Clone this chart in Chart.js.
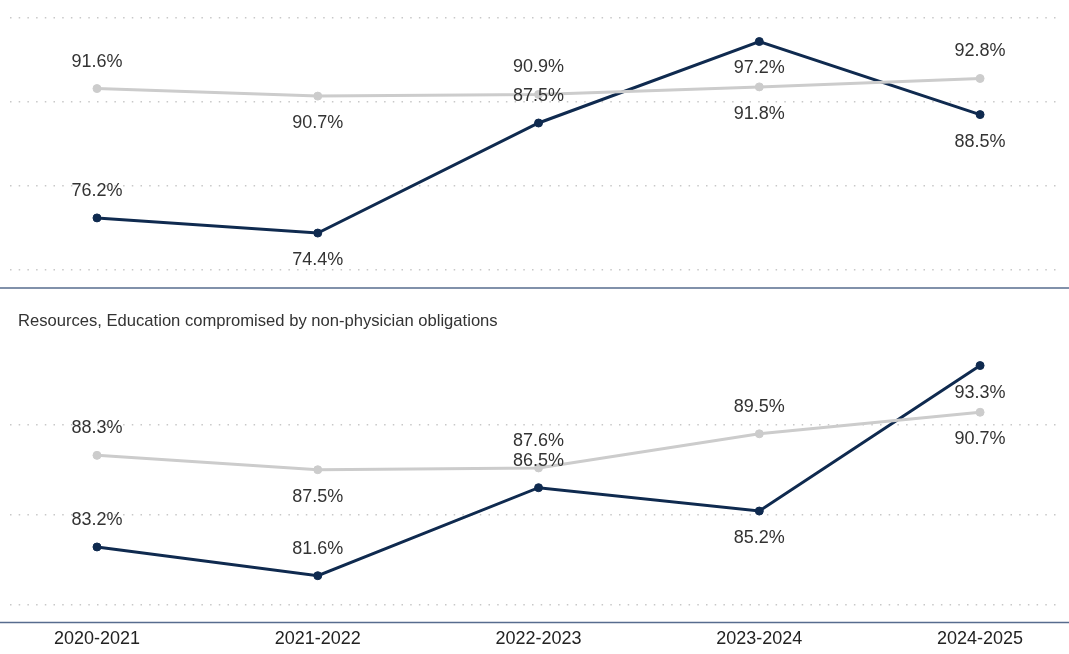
<!DOCTYPE html>
<html>
<head>
<meta charset="utf-8">
<script src="https://cdn.jsdelivr.net/npm/chart.js@4.4.1/dist/chart.umd.min.js"></script>
<style>
  html, body { margin: 0; padding: 0; background: #fff; }
  body { width: 1069px; height: 654px; position: relative; overflow: hidden; font-family: "Liberation Sans", Arial, sans-serif; }
  #top { position: absolute; left: 0; top: -5px; width: 1069px; height: 298px; }
  #bottom { position: absolute; left: 0; top: 289px; width: 1069px; height: 373px; }
  #title2 { position: absolute; left: 18px; top: 311px; font-size: 16.6px; color: #333; white-space: nowrap; }
</style>
</head>
<body>
<div id="top"><canvas id="chart1"></canvas></div>
<div id="bottom"><canvas id="chart2"></canvas></div>
<div id="title2">Resources, Education compromised by non-physician obligations</div>
<script>
const years = ['2020-2021', '2021-2022', '2022-2023', '2023-2024', '2024-2025'];

// top panel
const topNavy = [76.2, 74.4, 87.5, 97.2, 88.5];
const topGrey = [91.6, 90.7, 90.9, 91.8, 92.8];
const topTicks = [70, 80, 90, 100];

// bottom panel: Resources, Education compromised by non-physician obligations
const botNavy = [83.2, 81.6, 86.5, 85.2, 93.3];
const botGrey = [88.3, 87.5, 87.6, 89.5, 90.7];
const botTicks = [80, 85, 90];

// where each value label sits relative to its point
const topNavyPos = ['above', 'below', 'above', 'below', 'below'];
const topGreyPos = ['above', 'below', 'above', 'below', 'above'];
const botNavyPos = ['above', 'above', 'above', 'below', 'below'];
const botGreyPos = ['above', 'below', 'above', 'above', 'below'];

const NAVY = '#0f2a4f';
const GREY = '#cccccc';
const FONT = '"Liberation Sans", Arial, sans-serif';

const valueLabels = {
  id: 'valueLabels',
  afterDatasetsDraw(chart) {
    const ctx = chart.ctx;
    ctx.save();
    ctx.font = '18px ' + FONT;
    ctx.fillStyle = '#333';
    ctx.textAlign = 'center';
    ctx.textBaseline = 'middle';
    chart.data.datasets.forEach((ds, i) => {
      chart.getDatasetMeta(i).data.forEach((pt, j) => {
        const dy = ds.labelPos[j] === 'above' ? -27 : 27;
        ctx.fillText(ds.data[j].y.toFixed(1) + '%', pt.x, pt.y + dy);
      });
    });
    ctx.restore();
  }
};

// full width rule under the plot
const baseRule = {
  id: 'baseRule',
  beforeDatasetsDraw(chart) {
    const ctx = chart.ctx;
    const y = chart.chartArea.bottom;
    ctx.save();
    ctx.strokeStyle = '#576c8e';
    ctx.lineWidth = 1.5;
    ctx.beginPath();
    ctx.moveTo(0, y);
    ctx.lineTo(chart.width, y);
    ctx.stroke();
    ctx.restore();
  }
};

function pts(arr) {
  return arr.map((v, i) => ({ x: i, y: v }));
}

function series(label, values, color, pos) {
  return {
    label: label,
    data: pts(values),
    borderColor: color,
    backgroundColor: color,
    pointBackgroundColor: color,
    pointBorderColor: color,
    borderWidth: 3,
    pointRadius: 4,
    pointBorderWidth: 1,
    tension: 0,
    labelPos: pos
  };
}

function makeChart(id, navy, grey, navyPos, greyPos, ticks, yMin, yMax, showX, padding) {
  return new Chart(document.getElementById(id), {
    type: 'line',
    data: {
      datasets: [
        series('grey', grey, GREY, greyPos),
        series('navy', navy, NAVY, navyPos)
      ]
    },
    options: {
      responsive: true,
      maintainAspectRatio: false,
      animation: false,
      layout: { padding: padding },
      plugins: { legend: { display: false }, tooltip: { enabled: false } },
      scales: {
        x: {
          type: 'linear',
          min: -0.394,
          max: 4.362,
          display: showX,
          afterBuildTicks: s => { s.ticks = years.map((y, i) => ({ value: i })); },
          ticks: {
            callback: v => years[v],
            color: '#222',
            font: { size: 18, family: FONT },
            padding: 6,
            maxRotation: 0,
            autoSkip: false
          },
          grid: { display: false, drawTicks: false },
          border: { display: false }
        },
        y: {
          min: yMin,
          max: yMax,
          afterBuildTicks: s => { s.ticks = ticks.map(v => ({ value: v })); },
          afterFit: s => { s.width = 0; },
          ticks: { display: false },
          grid: { color: '#c8c8c8', lineWidth: 1.5, drawTicks: false },
          border: { display: false, dash: [1.5, 7.2] }
        }
      }
    },
    plugins: [baseRule, valueLabels]
  });
}

makeChart('chart1', topNavy, topGrey, topNavyPos, topGreyPos, topTicks,
  67.857, 102.143, false, { left: 10, right: 9, top: 5, bottom: 5 });
makeChart('chart2', botNavy, botGrey, botNavyPos, botGreyPos, botTicks,
  79, 94.667, true, { left: 10, right: 9, top: 52, bottom: 6 });
</script>
</body>
</html>
